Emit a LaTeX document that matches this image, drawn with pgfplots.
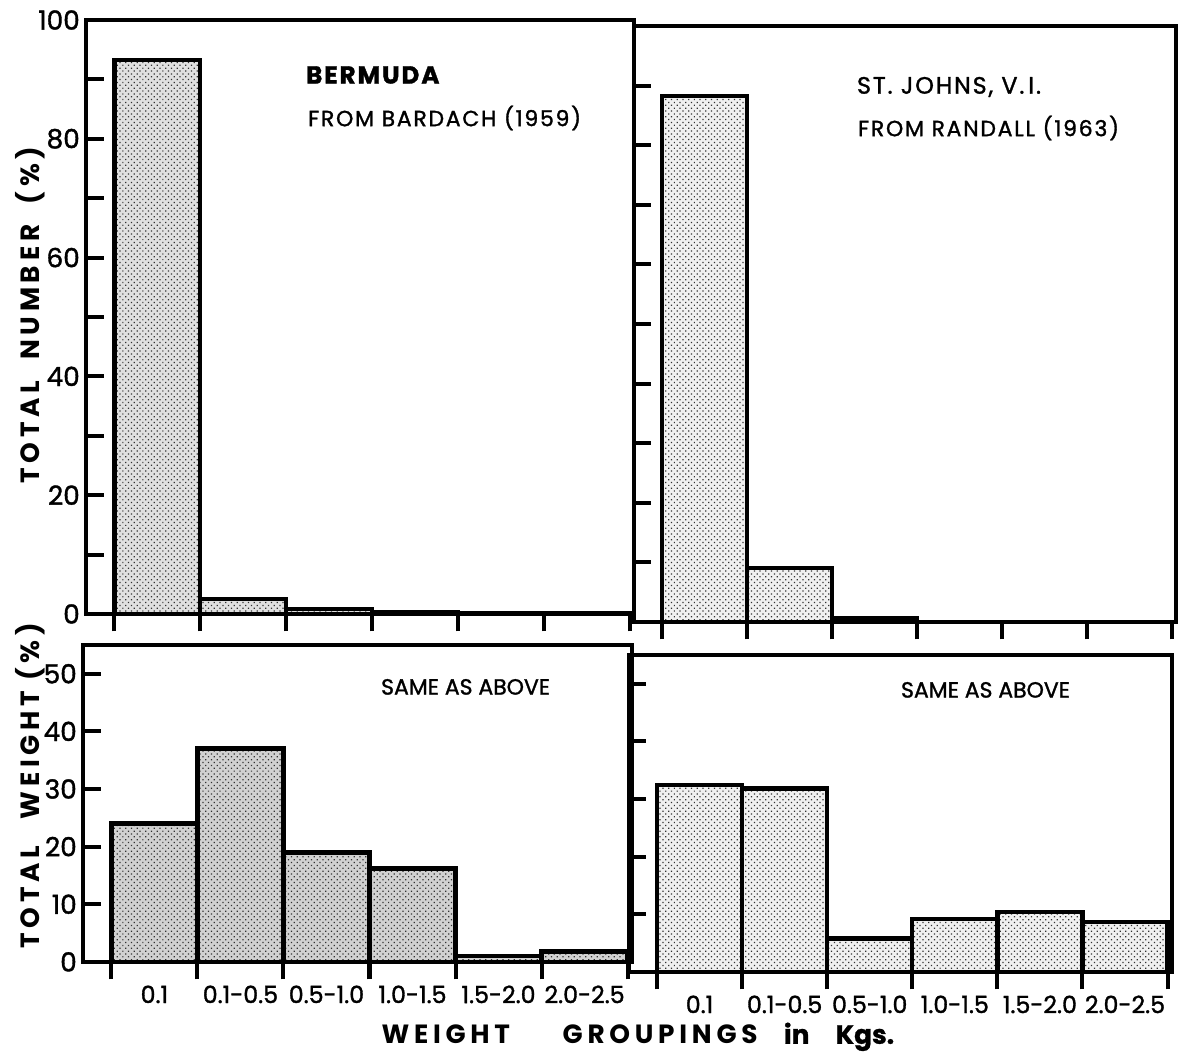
\documentclass[border=0pt]{standalone}
\usepackage{fontspec}
\setmainfont{Poppins}[FakeBold=1.0]
\newfontfamily\med{Poppins}[FakeBold=1.4]
\newfontfamily\spaced{Poppins}[LetterSpace=18]
\newfontfamily\wide{Poppins}[LetterSpace=8,FakeBold=1.4]
\usepackage{pgfplots}
\pgfplotsset{compat=1.18}
\usetikzlibrary{patterns.meta}

\pgfplotsset{
  panel/.style={
    scale only axis,
    axis line style={line width=2.5pt},
    xmin=-0.33, xmax=6.05, ymin=0,
    xtick={0,...,6}, xtick pos=bottom, ytick pos=left,
    xtick align=outside, ytick align=inside,
    major tick length=10pt, minor tick length=10pt,
    every tick/.style={line width=2.3pt, black},
    x tick label as interval,
    xticklabel style={font=\med\fontsize{13.5}{15}\selectfont},
    yticklabel style={font=\med\fontsize{15}{17}\selectfont},
    /pgf/number format/assume math mode=true,
    clip=false,
  },
  bars/.style={ybar interval, draw=black, line width=2.5pt, fill=#1,
    postaction={pattern={Dots[distance=2.3pt, radius=0.5pt, angle=45]}, pattern color=black!80}},
}

\begin{document}
\begin{tikzpicture}
\path (0,0) rectangle (23.56,-21.08);

% ---------- top left: Bermuda, number ----------
\begin{axis}[panel, at={(1.72cm,-0.40cm)}, anchor=north west,
  width=10.96cm, height=11.88cm, ymax=100,
  ytick={0,20,...,100}, minor ytick={10,30,...,90},
  xticklabels={}]
\addplot[bars=black!12] coordinates {(0,93.3) (1,2.5) (2,0.8) (3,0.3) (4,0.1) (5,0.1) (6,0)};
\end{axis}

% ---------- top right: St. Johns, number ----------
\begin{axis}[panel, at={(12.68cm,-0.52cm)}, anchor=north west,
  width=10.84cm, height=11.92cm, ymax=100,
  ytick={10,20,...,90}, yticklabels={},
  xticklabels={}]
\addplot[bars=black!6] coordinates {(0,88.3) (1,9.0) (2,0.6) (3,0) (4,0) (5,0) (6,0)};
\end{axis}

% ---------- bottom left: Bermuda, weight ----------
\begin{axis}[panel, at={(1.66cm,-12.90cm)}, anchor=north west,
  width=10.98cm, height=6.34cm, ymax=55,
  ytick={0,10,...,50},
  xticklabels={0.1,0.1-0.5,0.5-1.0,1.0-1.5,1.5-2.0,2.0-2.5}]
\addplot[bars=black!18] coordinates {(0,24) (1,37) (2,19) (3,16.2) (4,1) (5,1.8) (6,0)};
\end{axis}

% ---------- bottom right: St. Johns, weight ----------
\begin{axis}[panel, at={(12.58cm,-13.10cm)}, anchor=north west,
  width=10.86cm, height=6.34cm, ymax=55,
  ytick={10,20,...,50}, yticklabels={},
  xticklabels={0.1,0.1-0.5,0.5-1.0,1.0-1.5,1.5-2.0,2.0-2.5}]
\addplot[bars=black!6] coordinates {(0,32.4) (1,31.8) (2,5.8) (3,9.2) (4,10.4) (5,8.7) (6,0)};
\end{axis}

% ---------- texts ----------
\node[anchor=west, font=\wide\bfseries\fontsize{14}{16}\selectfont] at (6.00,-1.50) {BERMUDA};
\node[anchor=west, font=\wide\fontsize{12.5}{15}\selectfont] at (6.04,-2.36) {FROM BARDACH (1959)};
\node[anchor=west, font=\wide\fontsize{13.5}{16}\selectfont] at (17.02,-1.74) {ST. JOHNS, V.\,I.};
\node[anchor=west, font=\wide\fontsize{12.5}{15}\selectfont] at (17.04,-2.56) {FROM RANDALL (1963)};
\node[anchor=west, font=\med\fontsize{12.5}{15}\selectfont] at (7.50,-13.74) {SAME AS ABOVE};
\node[anchor=west, font=\med\fontsize{12.5}{15}\selectfont] at (17.90,-13.80) {SAME AS ABOVE};

\node[rotate=90, font=\spaced\bfseries\fontsize{15}{18}\selectfont] at (0.60,-6.30) {TOTAL\ \ NUMBER\ \ (\%)};
\node[rotate=90, font=\spaced\bfseries\fontsize{15}{18}\selectfont] at (0.60,-15.72) {TOTAL\quad WEIGHT\ (\%)};

\node[font=\bfseries\fontsize{15}{18}\selectfont] at (12.76,-20.74)
  {{\spaced WEIGHT}\qquad{\spaced GROUPINGS}\quad in\quad Kgs.};
\end{tikzpicture}
\end{document}
